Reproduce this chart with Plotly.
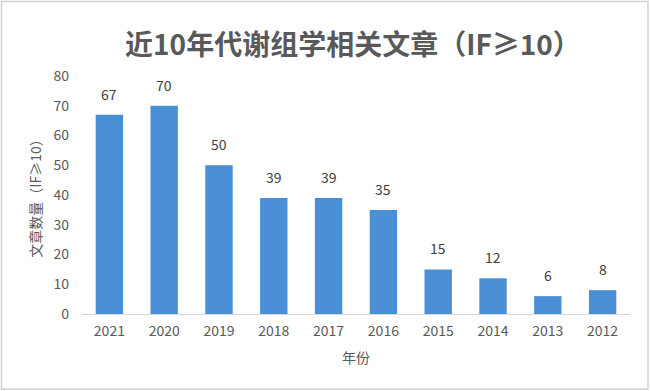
import plotly.graph_objects as go

years = ["2021", "2020", "2019", "2018", "2017", "2016", "2015", "2014", "2013", "2012"]
counts = [67, 70, 50, 39, 39, 35, 15, 12, 6, 8]
y_ticks = [0, 10, 20, 30, 40, 50, 60, 70, 80]

FONT = "Noto Sans CJK SC"
fig = go.Figure()
fig.add_trace(go.Bar(
    x=years, y=counts,
    marker=dict(color="#4a8ed5", line=dict(width=0)),
    width=0.5,
))

# data labels: category axis annotations use category serial index
for i, v in enumerate(counts):
    fig.add_annotation(x=i, y=v, text=str(v), showarrow=False,
                       yanchor="bottom", yshift=9,
                       font=dict(family=FONT, size=14, color="#404040"))

L, R, T, B = 82, 20, 76, 77
W, H = 650, 391
pw, ph = W - L - R, H - T - B
fig.add_shape(type="rect", xref="paper", yref="paper",
              x0=(1.5 - L) / pw, x1=(W - 2 - L) / pw,
              y0=(H - B - (H - 2)) / ph, y1=(H - B - 1.5) / ph,
              line=dict(color="#d0d0d0", width=1.5), fillcolor="rgba(0,0,0,0)",
              layer="below")

fig.update_layout(
    width=W, height=H,
    margin=dict(l=L, r=R, t=T, b=B, autoexpand=False),
    paper_bgcolor="white", plot_bgcolor="white",
    showlegend=False,
    font=dict(family=FONT, color="#595959"),
    title=dict(text="近10年代谢组学相关文章（IF≥10）", x=0.543, xanchor="center",
               y=1 - 45 / H, yanchor="middle",
               font=dict(family=FONT, size=28, color="#595959", weight="bold")),
    xaxis=dict(type="category", showline=True, linecolor="#d9d9d9", linewidth=1, showgrid=False,
               ticks="", ticklabelstandoff=4, tickfont=dict(size=14, color="#595959"),
               title=dict(text="年份", font=dict(size=14, color="#595959"), standoff=14)),
    yaxis=dict(range=[0, 80], tickvals=y_ticks, showgrid=False, zeroline=False,
               showline=False, ticks="", ticklabelstandoff=12,
               tickfont=dict(size=14, color="#595959"),
               title=dict(text="文章数量（IF≥10）", font=dict(size=14, color="#595959"), standoff=8)),
)

fig.write_html("out.html", config={"displayModeBar": False},
               post_script="document.body.style.margin='0';document.body.style.overflow='hidden';")
